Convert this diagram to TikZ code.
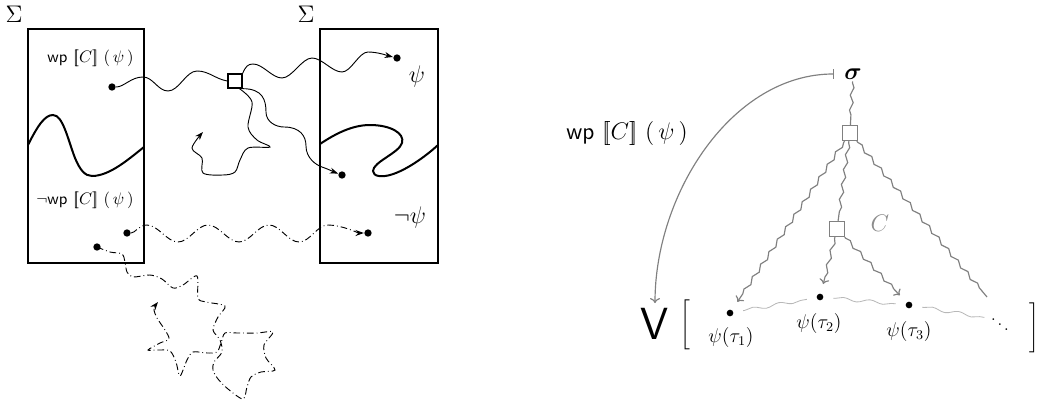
\documentclass[tikz,border=0pt]{standalone}
\usepackage{amsmath}
\usetikzlibrary{arrows.meta,decorations.pathmorphing}
\newcommand{\sLb}{[\mkern-3.5mu[}
\newcommand{\sRb}{]\mkern-3.5mu]}
\begin{document}
\begin{tikzpicture}[x=0.6pt,y=-0.6pt,
  region/.style={line width=0.9pt},
  thickc/.style={line width=1.2pt},
  thinl/.style={line width=0.55pt},
  bdot/.style={circle,fill=black,inner sep=0pt,minimum size=4.4pt,outer sep=0.3pt},
  bsq/.style={draw=black,fill=white,line width=0.8pt,minimum size=8.4pt,inner sep=0pt},
  dashdot/.style={thinl,dash pattern=on 4pt off 1.8pt on 0.5pt off 1.8pt},
  sarrow/.style={-{Stealth[length=5pt,width=3.6pt]}},
  gline/.style={draw=black!50,line width=0.7pt},
  gwavy/.style={gline,decorate,decoration={snake,amplitude=1pt,segment length=9pt,pre length=1pt,post length=3pt}},
  lwavy/.style={draw=black!28,line width=0.5pt,decorate,decoration={snake,amplitude=1pt,segment length=16pt,pre length=1pt,post length=1pt}},
  gsq/.style={draw=black!50,fill=white,line width=0.8pt,minimum size=9pt,inner sep=0pt},
  gdot/.style={circle,fill=black,inner sep=0pt,minimum size=4pt,outer sep=6pt},
  garrow/.style={-{To[length=3pt,width=6pt]}}
]
\useasboundingbox (0,0) rectangle (1048,407);

% ---------------- left part ----------------
\draw[region] (28,29) rectangle (144,263);
\draw[region] (320,29) rectangle (438,263);
\node[font=\Large] (S1) at (14,14) {$\Sigma$};
\node[font=\Large] (S2) at (306,14) {$\Sigma$};
\node[anchor=east,inner sep=0pt] (L1) at (134,58) {$\mathsf{wp}\ \sLb C\sRb\ (\,\psi\,)$};
\node[anchor=east,inner sep=0pt] (L2) at (134,200) {$\neg\mathsf{wp}\ \sLb C\sRb\ (\,\psi\,)$};
\node[font=\Large] (P1) at (417,76) {$\psi$};
\node[font=\Large] (P2) at (410,217) {$\neg\psi$};

% boundaries
\draw[thickc] (28,145) .. controls (38,125) and (45,115) .. (53,115)
  .. controls (63,115) and (68,140) .. (75,158)
  .. controls (80,170) and (85,176) .. (92,176)
  .. controls (110,176) and (130,158) .. (144,147);
\draw[thickc] (320,144) .. controls (335,134) and (352,125) .. (370,125)
  .. controls (390,125) and (405,133) .. (402,143)
  .. controls (399,153) and (373,162) .. (373,171)
  .. controls (373,177) and (383,177) .. (390,175)
  .. controls (405,171) and (425,157) .. (438,145);

% points
\node[bdot] (d1) at (112,87) {};
\node[bdot] (d2) at (397,58) {};
\node[bdot] (d3) at (342,175) {};
\node[bdot] (d4) at (127,233) {};
\node[bdot] (d5) at (368,233) {};
\node[bdot] (d6) at (97,247) {};
\node[bsq] (sqL) at (235,81) {};

% solid runs
\draw[thinl] (d1) .. controls +(12,0) and +(-12,0) .. (143,77)
  .. controls +(10,0) and +(-10,0) .. (168,91)
  .. controls +(11,0) and +(-11,0) .. (197,71)
  .. controls +(12,0) and +(-12,-2) .. (sqL.west);
\draw[thinl,sarrow] (sqL.north east) .. controls +(3,-7) and +(-5,0) .. (253,64)
  .. controls +(10,0) and +(-10,0) .. (282,78)
  .. controls +(10,0) and +(-10,0) .. (312,58)
  .. controls +(10,0) and +(-10,0) .. (342,72)
  .. controls +(9,0) and +(-9,0) .. (368,52)
  .. controls +(10,0) and +(-8,-2) .. (d2);
\draw[thinl,sarrow] (sqL.south east) .. controls +(20,0) and +(0,-12) .. (266,112)
  .. controls +(0,10) and +(-8,0) .. (284,127)
  .. controls +(16,0) and +(0,-10) .. (306,146)
  .. controls +(0,12) and +(-6,-2) .. (322,167)
  .. controls +(6,2) and +(-8,-3) .. (d3);
\draw[thinl,sarrow] plot[smooth,tension=0.55] coordinates {(sqL.-60) (252,102) (248,127) (257,140) (270,147) (248,148) (240,160) (235,172) (223,175) (203,173) (202,158) (192,148) (203,132)};

% dash-dotted runs
\draw[dashdot,sarrow] (d4) .. controls +(8,0) and +(-8,0) .. (147,225)
  .. controls +(11,0) and +(-11,0) .. (178,242)
  .. controls +(11,0) and +(-11,0) .. (208,225)
  .. controls +(11,0) and +(-11,0) .. (239,242)
  .. controls +(11,0) and +(-11,0) .. (269,225)
  .. controls +(11,0) and +(-11,0) .. (299,242)
  .. controls +(11,0) and +(-11,0) .. (328,225)
  .. controls +(14,0) and +(-10,0) .. (d5);
\draw[dashdot,sarrow] plot[smooth,tension=0.5] coordinates {(d6) (110,252) (122,254) (125,262) (127,272) (133,277) (150,275) (162,279) (173,288) (183,285) (197,276) (198,298) (206,302) (225,306) (218,317) (213,330) (220,340) (222,352) (214,362) (213,370) (218,379) (228,389) (243,399) (247,387) (251,377) (261,372) (275,370) (266,358) (264,345) (273,332) (257,333) (237,333) (225,333) (221,343) (217,352) (207,353) (193,352) (187,360) (180,376) (176,362) (170,351) (158,350) (148,350) (160,343) (169,339) (165,330) (157,318) (154,309) (158,302)};

% ---------------- right part ----------------
\node[font=\Large,inner sep=1pt] (sig) at (853,74) {$\boldsymbol{\sigma}$};
\node[gsq] (q1) at (850,133) {};
\node[gsq] (q2) at (837,229) {};
\node[gdot] (t1) at (730,313) {};
\node[gdot] (t2) at (820,297) {};
\node[gdot] (t3) at (909,305) {};
\node[font=\large] (l1) at (731,337) {$\psi(\tau_1)$};
\node[font=\large] (l2) at (819,323) {$\psi(\tau_2)$};
\node[font=\large] (l3) at (909,331) {$\psi(\tau_3)$};
\node (dd) at (1000,320) {$\ddots$};
\coordinate (e) at (987,297);
\node[font=\fontsize{27}{30}\selectfont\sffamily,inner sep=1pt] (V) at (655,324) {V};
\node (lb) at (685,325) {$\Bigg[$};
\node (rb) at (1034,328) {$\Bigg]$};
\node[font=\Large] (wpR) at (627,133) {$\mathsf{wp}\ \sLb C\sRb\ (\,\psi\,)$};
\node[font=\Large,text=black!45] (Cl) at (880,223) {$C$};

\draw[gline,{Bar[width=6pt]}-{To[length=3pt,width=6pt]},shorten <=5pt] (sig.west) .. controls +(-110,0) and +(0,-110) .. ([yshift=2pt]V.north);
\draw[gwavy] (sig) -- (q1);
\draw[gwavy,garrow] (q1) -- (t1);
\draw[gwavy] (q1) -- (q2);
\draw[gwavy] (q1) -- (e);
\draw[gwavy,garrow] (q2) -- (t2);
\draw[gwavy,garrow] (q2) -- (t3);
\draw[lwavy] (t1) -- (t2);
\draw[lwavy] (t2) -- (t3);
\draw[lwavy] (t3) -- (dd);
\end{tikzpicture}
\end{document}
